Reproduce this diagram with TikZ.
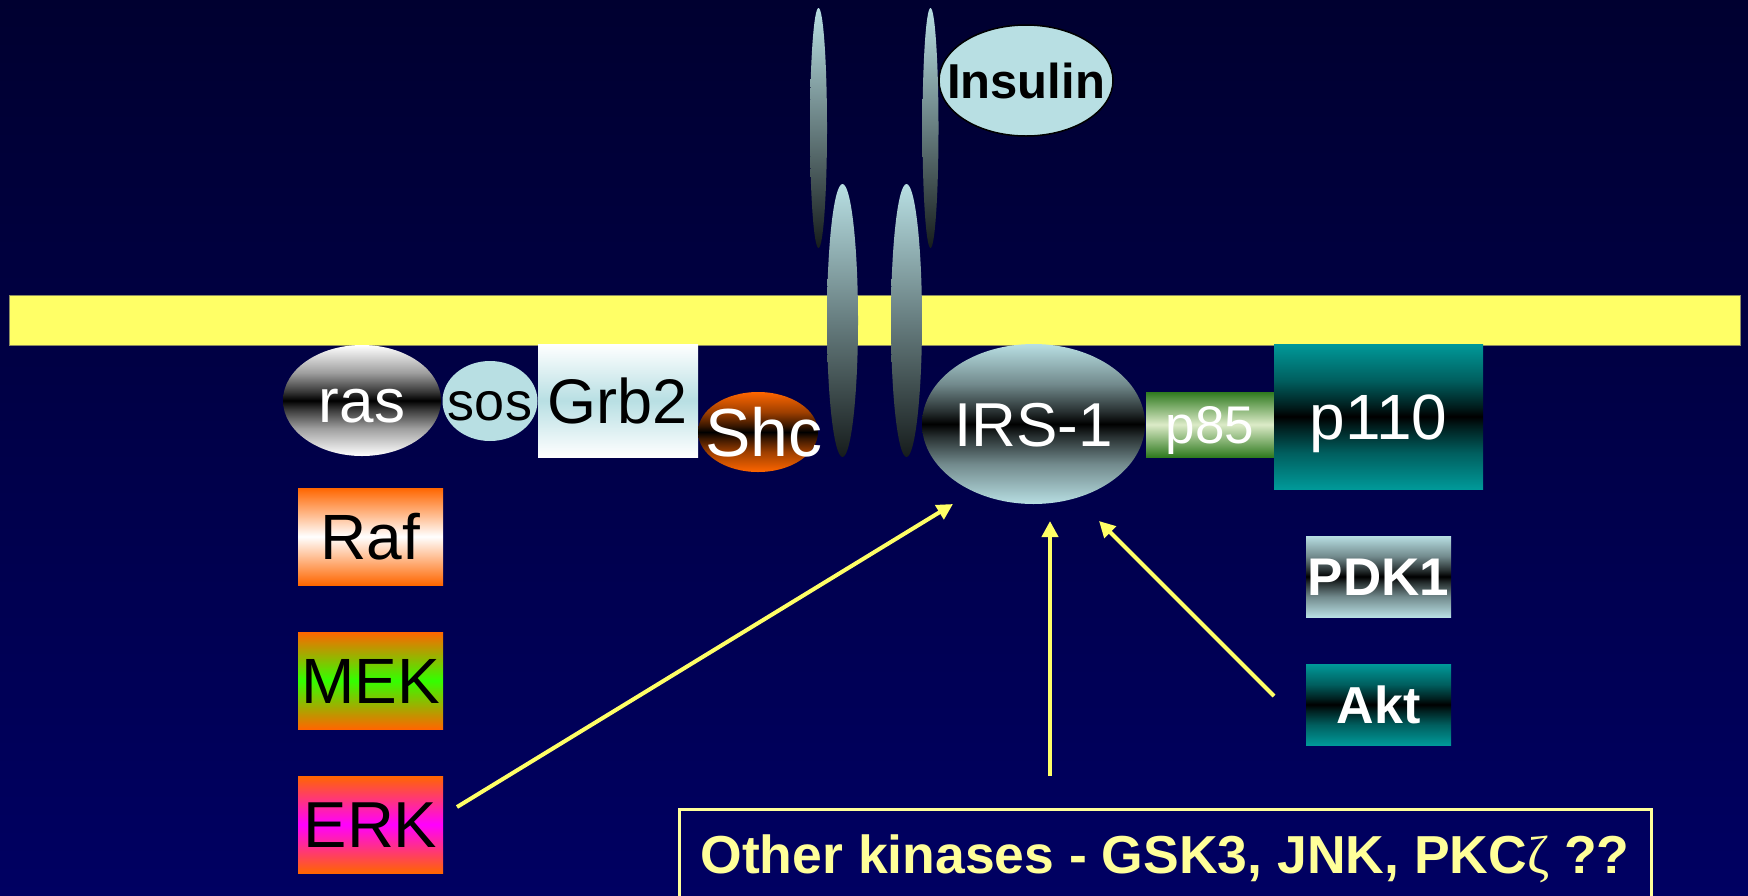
\documentclass[tikz,border=0pt]{standalone}
\usepackage{fontspec}
\setmainfont{Liberation Sans}
\newfontfamily\greekserif{Liberation Serif}
\usetikzlibrary{shapes.geometric,arrows.meta}

\definecolor{bgtop}{HTML}{000030}
\definecolor{bgbot}{HTML}{000062}
\definecolor{membrane}{HTML}{FFFF66}
\definecolor{membraneedge}{HTML}{8C8C60}
\definecolor{paleblue}{HTML}{B8DFE3}
\definecolor{teal}{HTML}{009999}
\definecolor{deeporange}{HTML}{FF6600}
\definecolor{limegreen}{HTML}{33FF00}
\definecolor{hotpink}{HTML}{FF00FF}
\definecolor{leafdark}{HTML}{2F7A1F}
\definecolor{leaflight}{HTML}{DCEBC8}
\definecolor{receptordark}{HTML}{161C1C}
\definecolor{kinaseyellow}{HTML}{FFFF66}
\definecolor{notecolor}{HTML}{FFFF99}

% symmetric band shading: outer colour at the edges, a narrow dark core in the middle
\colorlet{bandouter}{white}
\colorlet{bandinner}{black}
\pgfdeclareverticalshading[bandouter,bandinner]{darkcore}{100bp}{%
  color(0bp)=(bandouter); color(25bp)=(bandouter);
  color(37.5bp)=(bandouter!62!bandinner); color(46bp)=(bandouter!22!bandinner);
  color(50bp)=(bandinner);
  color(54bp)=(bandouter!22!bandinner); color(62.5bp)=(bandouter!62!bandinner);
  color(75bp)=(bandouter); color(100bp)=(bandouter)}

\tikzset{
  shp/.style={inner sep=0pt, outer sep=0pt, text depth=0pt},
  fs/.style={font=\fontsize{#1}{#1}\selectfont, text height=0.716*#1pt},
  fsb/.style={font=\fontsize{#1}{#1}\selectfont\bfseries, text height=0.716*#1pt},
  band/.style n args={2}{top color=#1, bottom color=#1, middle color=#2},
  darkband/.style={/utils/exec={\colorlet{bandouter}{#1}\colorlet{bandinner}{black}},
                   shade, shading=darkcore},
  poval/.style={shp, ellipse},
  pbox/.style={shp, rectangle},
  receptor/.style={shp, ellipse, top color=paleblue, bottom color=receptordark},
  kin/.style={draw=kinaseyellow, line width=4pt, -{Triangle[length=16pt,width=16pt]}},
}

\begin{document}
\begin{tikzpicture}[x=1pt,y=-1pt]
  % page and background
  \clip (0,0) rectangle (1748,895);
  \shade[top color=bgtop, bottom color=bgbot] (0,0) rectangle (1748,895);

  % plasma membrane
  \path[fill=membrane, draw=membraneedge, line width=1pt] (9,295) rectangle (1740,345);

  % insulin receptor chains
  \node[receptor, minimum width=17, minimum height=240] (recUL) at (818.5,128) {};
  \node[receptor, minimum width=16, minimum height=240] (recUR) at (930.5,128) {};
  \node[receptor, minimum width=31, minimum height=273] (recLL) at (842.5,320.5) {};
  \node[receptor, minimum width=31, minimum height=273] (recLR) at (906.5,320.5) {};

  % insulin
  \node[poval, fill=paleblue, draw=black, line width=1.5pt, fsb=49,
        minimum width=174, minimum height=111] (insulin) at (1026,80.5) {\makebox[0pt]{Insulin}};

  % ras / MAP kinase branch
  \node[poval, darkband=white, text=white, fs=62,
        minimum width=158, minimum height=111] (ras) at (362,400.5) {\makebox[0pt]{ras}};
  \node[poval, fill=paleblue, text=black, fs=54,
        minimum width=95, minimum height=80] (sos) at (490,401) {\makebox[0pt]{sos}};
  \node[pbox, band={white}{paleblue}, text=black, fs=63,
        minimum width=160, minimum height=113] (grb2) at (618,400.5) {Grb2};
  \node[poval, darkband=deeporange, text=white, fs=68,
        minimum width=120, minimum height=80] (shc) at (758,432) {\makebox[0pt]{\hspace{12pt}Shc}};

  \node[pbox, band={deeporange}{white}, text=black, fs=64,
        minimum width=145, minimum height=97] (raf) at (370.5,536.5) {Raf};
  \node[pbox, band={deeporange}{limegreen}, text=black, fs=64,
        minimum width=145, minimum height=97] (mek) at (370.5,680.5) {MEK};
  \node[pbox, band={deeporange}{hotpink}, text=black, fs=65,
        minimum width=145, minimum height=97] (erk) at (370.5,824.5) {ERK};

  % IRS-1 and PI3-kinase branch
  \node[poval, darkband=paleblue, text=white, fs=62,
        minimum width=223, minimum height=160] (irs) at (1033.5,424) {\makebox[0pt]{IRS-1}};
  \node[pbox, band={leafdark}{leaflight}, text=white, fs=53,
        minimum width=128, minimum height=65] (p85) at (1210,424.5) {p85};
  \node[pbox, darkband=teal, text=white, fs=64,
        minimum width=209, minimum height=145] (p110) at (1378.5,416.5) {p110};

  \node[pbox, darkband=paleblue, text=white, fsb=53,
        minimum width=145, minimum height=81] (pdk1) at (1378.5,576.5) {PDK1};
  \node[pbox, darkband=teal, text=white, fsb=52,
        minimum width=145, minimum height=81] (akt) at (1378.5,704.5) {Akt};

  % other kinases
  \node[pbox, draw=notecolor, line width=3pt, text=notecolor, fsb=53.5,
        minimum width=972, minimum height=91] (kinbox) at (1165,854.5)
        {Other kinases - GSK3, JNK, PKC{\greekserif\mdseries ζ} ??};

  % serine kinases acting on IRS-1
  \draw[kin] ([shift={(14,-17.5)}]erk.east) -- ([shift={(-80.5,80)}]irs.center);
  \draw[kin] ([shift={(-115,-33)}]kinbox.north) -- ([shift={(16.5,97)}]irs.center);
  \draw[kin] ([shift={(-32,-8.5)}]akt.west) -- ([shift={(65.5,97)}]irs.center);
\end{tikzpicture}
\end{document}
